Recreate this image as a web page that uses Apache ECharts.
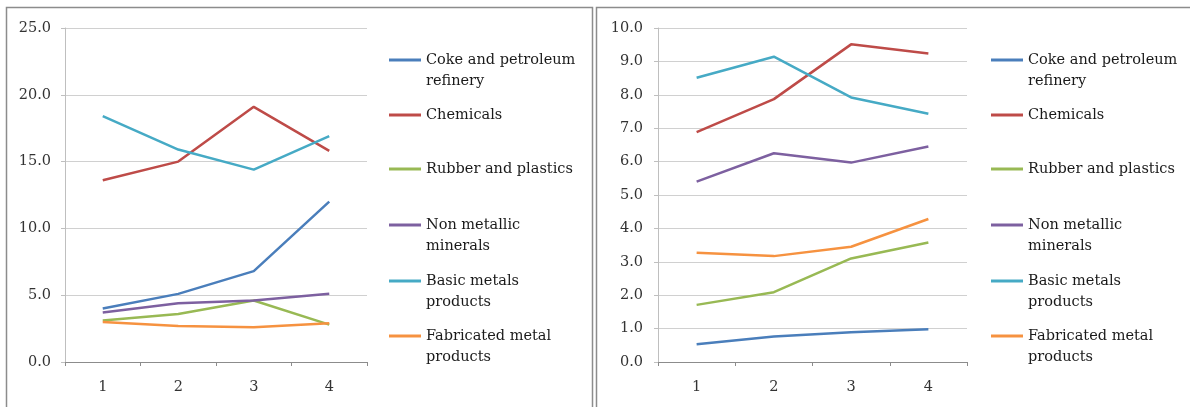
<!DOCTYPE html>
<html>
<head>
<meta charset="utf-8">
<script src="https://cdn.jsdelivr.net/npm/echarts@6/dist/echarts.min.js"></script>
<style>
  html, body { margin: 0; padding: 0; background: #ffffff; }
  #chart { width: 1190px; height: 407px; }
</style>
</head>
<body>
<div id="chart"></div>
<script>
// Categories (periods) shared by both panels
const categories = ['1', '2', '3', '4'];

// Industry names, with the wrapped form used in the legends
const seriesNames = [
  'Coke and petroleum refinery',
  'Chemicals',
  'Rubber and plastics',
  'Non metallic minerals',
  'Basic metals products',
  'Fabricated metal products'
];
const legendLines = [
  ['Coke and petroleum', 'refinery'],
  ['Chemicals'],
  ['Rubber and plastics'],
  ['Non metallic', 'minerals'],
  ['Basic metals', 'products'],
  ['Fabricated metal', 'products']
];

// Left panel values
const cokeLeft = [4.0, 5.1, 6.8, 12.0];
const chemicalsLeft = [13.6, 15.0, 19.1, 15.8];
const rubberLeft = [3.1, 3.6, 4.6, 2.8];
const nonMetallicLeft = [3.7, 4.4, 4.6, 5.1];
const basicMetalsLeft = [18.4, 15.9, 14.4, 16.9];
const fabricatedLeft = [3.0, 2.7, 2.6, 2.9];

// Right panel values
const cokeRight = [0.53, 0.76, 0.89, 0.98];
const chemicalsRight = [6.88, 7.87, 9.51, 9.24];
const rubberRight = [1.71, 2.09, 3.10, 3.58];
const nonMetallicRight = [5.40, 6.25, 5.97, 6.45];
const basicMetalsRight = [8.51, 9.14, 7.92, 7.43];
const fabricatedRight = [3.27, 3.17, 3.45, 4.28];

// Value-axis ranges
const leftAxis = { min: 0, max: 25, interval: 5 };
const rightAxis = { min: 0, max: 10, interval: 1 };

const leftValues = [cokeLeft, chemicalsLeft, rubberLeft, nonMetallicLeft, basicMetalsLeft, fabricatedLeft];
const rightValues = [cokeRight, chemicalsRight, rubberRight, nonMetallicRight, basicMetalsRight, fabricatedRight];

const colors = ['#4A7EBB', '#BE4B48', '#98B954', '#7D60A0', '#46AAC5', '#F69240'];

const FONT = '"DejaVu Serif", "Liberation Serif", serif';
const LINE_H = 21;
const legendCenters = [60, 115, 169, 225, 281, 336];

function makeXAxis(gridIndex) {
  return {
    type: 'category',
    gridIndex: gridIndex,
    data: categories,
    boundaryGap: true,
    axisLine: { lineStyle: { color: '#8C8C8C', width: 1 } },
    axisTick: { show: true, length: 4, alignWithLabel: false, lineStyle: { color: '#8C8C8C' } },
    axisLabel: { color: '#333333', fontFamily: FONT, fontSize: 14.5, margin: 18 },
    splitLine: { show: false }
  };
}

function makeYAxis(gridIndex, range, margin) {
  return {
    type: 'value',
    gridIndex: gridIndex,
    min: range.min,
    max: range.max,
    interval: range.interval,
    axisLine: { show: true, lineStyle: { color: '#BFBFBF', width: 1 } },
    axisTick: { show: true, length: 4, lineStyle: { color: '#BFBFBF' } },
    axisLabel: {
      color: '#333333', fontFamily: FONT, fontSize: 14.5, margin: margin,
      formatter: v => v.toFixed(1)
    },
    splitLine: { show: true, lineStyle: { color: '#D0D0D0', width: 1 } }
  };
}

function makeSeries(values, axisIndex) {
  return values.map((data, i) => ({
    name: seriesNames[i],
    type: 'line',
    xAxisIndex: axisIndex,
    yAxisIndex: axisIndex,
    data: data,
    symbol: 'none',
    smooth: false,
    lineStyle: { color: colors[i], width: 2.5 },
    itemStyle: { color: colors[i] },
    emphasis: { disabled: true }
  }));
}

// One legend block per entry so every row keeps its own fixed position.
// Wrapped entries get a leading spacer line so the key stays level
// with the first line of text.
function makeLegends(left) {
  return seriesNames.map((name, i) => {
    const lines = legendLines[i];
    const twoLines = lines.length > 1;
    const text = twoLines ? ' \n' + lines.join('\n') : lines[0];
    return {
      show: true,
      left: left,
      top: legendCenters[i] - (twoLines ? LINE_H * 1.5 : LINE_H / 2),
      orient: 'vertical',
      padding: 0,
      itemWidth: 32,
      itemHeight: 3,
      icon: 'rect',
      selectedMode: false,
      textStyle: {
        color: '#1A1A1A',
        fontFamily: FONT,
        fontSize: 14.5,
        lineHeight: LINE_H
      },
      data: [{ name: name, itemStyle: { color: colors[i] } }],
      formatter: () => text
    };
  });
}

const chart = echarts.init(document.getElementById('chart'), null, { renderer: 'canvas' });

chart.setOption({
  animation: false,
  backgroundColor: '#ffffff',
  graphic: [
    {
      type: 'rect', silent: true,
      shape: { x: 6.5, y: 7.5, width: 586, height: 430 },
      style: { fill: 'none', stroke: '#8C8C8C', lineWidth: 1.5 }
    },
    {
      type: 'rect', silent: true,
      shape: { x: 596.5, y: 7.5, width: 630, height: 430 },
      style: { fill: 'none', stroke: '#8C8C8C', lineWidth: 1.5 }
    }
  ],
  grid: [
    { left: 65, top: 28, width: 302, height: 334 },
    { left: 658, top: 28, width: 309, height: 334 }
  ],
  xAxis: [makeXAxis(0), makeXAxis(1)],
  yAxis: [makeYAxis(0, leftAxis, 14), makeYAxis(1, rightAxis, 15)],
  legend: makeLegends(389).concat(makeLegends(991)),
  series: makeSeries(leftValues, 0).concat(makeSeries(rightValues, 1))
});
</script>
</body>
</html>
